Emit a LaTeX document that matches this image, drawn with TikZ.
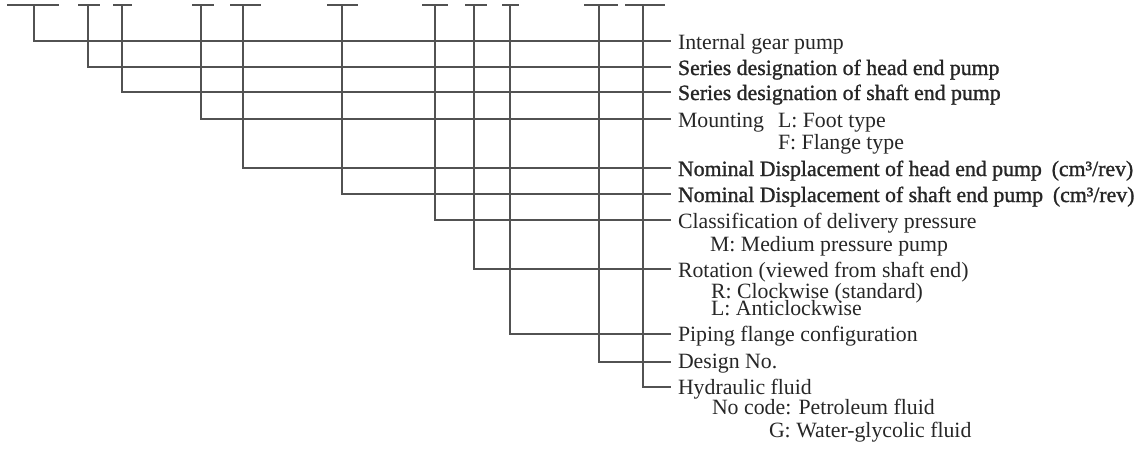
\documentclass[tikz,border=0pt]{standalone}
\usepackage{fontspec}
\setmainfont{Liberation Serif}
\newfontfamily\semib[FakeBold=1.2]{Liberation Serif}
\begin{document}
\begin{tikzpicture}[x=1pt,y=-1pt,
  conn/.style={draw=black!68, line width=1.3pt},
  lbl/.style={anchor=base west, inner sep=0pt, outer sep=0pt, text=black!85,
              font=\fontsize{21.8}{24}\selectfont},
  slbl/.style={lbl, font=\fontsize{21.8}{24}\semib}]
\useasboundingbox (0,0) rectangle (1144,450);
% top code bars: left end, right end, branch point
\foreach \n/\a/\b/\v in {1/7/59/34, 2/78/100/88, 3/113/132/122, 4/192/214/201,
   5/230/261/243, 6/327/358/342, 7/422/448/435, 8/465/487/474, 9/502/519/510,
   10/584/618/599, 11/625/665/643}{
  \coordinate (bl\n) at (\a,5);
  \coordinate (br\n) at (\b,5);
  \coordinate (t\n) at (\v,5);
}
% line ends at the labels
\foreach \n/\y in {1/41, 2/67, 3/92, 4/119, 5/168, 6/194, 7/220, 8/269,
   9/334, 10/362, 11/387}{
  \coordinate (e\n) at (671,\y);
}
% labels
\node[lbl]  (l1)  at (678,49)  {Internal gear pump};
\node[slbl] (l2)  at (678,75)  {Series designation of head end pump};
\node[slbl] (l3)  at (678,100) {Series designation of shaft end pump};
\node[lbl]  (l4)  at (678,127) {Mounting};
\node[lbl]  (l4a) at (778,127) {L: Foot type};
\node[lbl]  (l4b) at (778,149) {F: Flange type};
\node[slbl] (l5)  at (678,176) {Nominal Displacement of head end pump\hspace{0.45em}(cm³/rev)};
\node[slbl] (l6)  at (678,202) {Nominal Displacement of shaft end pump\hspace{0.45em}(cm³/rev)};
\node[lbl]  (l7)  at (678,228) {Classification of delivery pressure};
\node[lbl]  (l7a) at (710,251) {M: Medium pressure pump};
\node[lbl]  (l8)  at (678,277) {Rotation (viewed from shaft end)};
\node[lbl]  (l8a) at (711,298) {R: Clockwise (standard)};
\node[lbl]  (l8b) at (711,315) {L: Anticlockwise};
\node[lbl]  (l9)  at (678,341) {Piping flange configuration};
\node[lbl]  (l10) at (678,368) {Design No.};
\node[lbl]  (l11) at (678,394) {Hydraulic fluid};
\node[lbl]  (l11a) at (712,414) {No code: Petroleum fluid};
\node[lbl]  (l11b) at (769,437) {G: Water-glycolic fluid};
% connectors
\foreach \n in {1,...,11}{
  \draw[conn] (bl\n) -- (br\n);
  \draw[conn] (t\n) |- (e\n);
}
\end{tikzpicture}
\end{document}
